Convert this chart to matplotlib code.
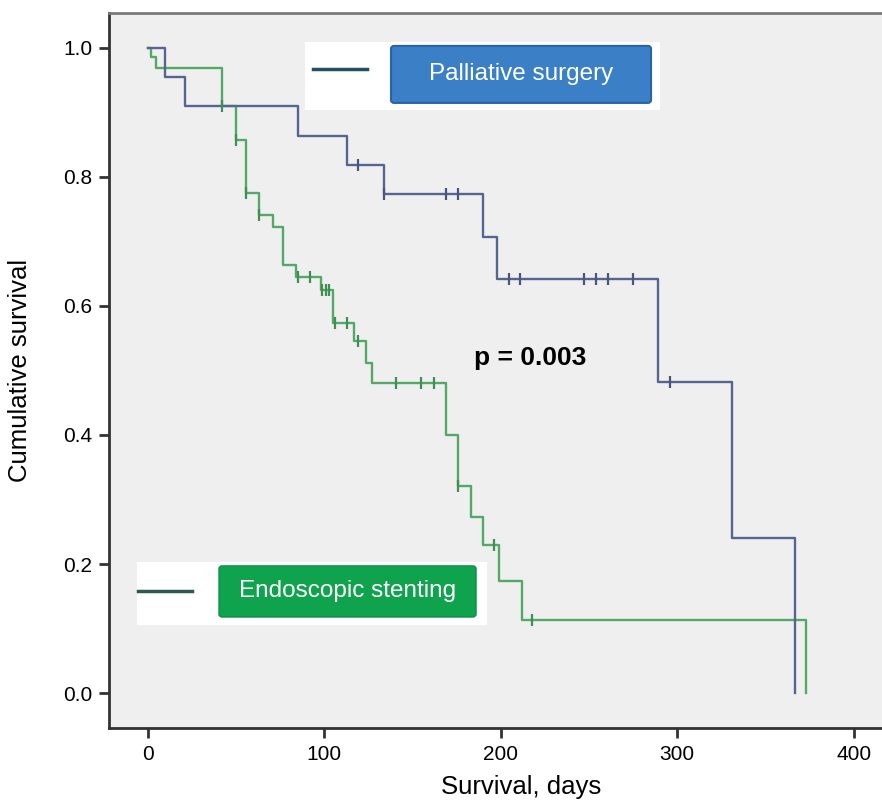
import numpy as np
import matplotlib
matplotlib.use("Agg")
import matplotlib.pyplot as plt
from matplotlib.patches import FancyBboxPatch, Rectangle
from matplotlib.lines import Line2D

plt.rcParams['font.family'] = ['Liberation Sans', 'DejaVu Sans']

# ---------------- data ----------------
pal_times = [0, 10, 21, 85, 113, 134, 190, 198, 289, 331, 367]
pal_surv = [1.0, 0.955, 0.909, 0.864, 0.818, 0.773, 0.707, 0.642, 0.482, 0.241, 0.0]
pal_censor = [119, 134, 169, 176, 205, 211, 247, 254, 261, 275, 296]

end_times = [0, 2, 5, 42, 50, 56, 63, 71, 77, 84, 98, 105, 117, 124, 127,
             169, 176, 183, 190, 199, 212, 373]
end_surv = [1.0, 0.985, 0.969, 0.909, 0.857, 0.775, 0.741, 0.723, 0.664, 0.645,
            0.625, 0.574, 0.545, 0.511, 0.48, 0.40, 0.321, 0.273, 0.229, 0.173,
            0.114, 0.0]
end_censor = [42, 50, 56, 63, 85, 92, 99, 101, 103, 106, 113, 119, 141, 155,
              162, 176, 196, 218]

xticks = [0, 100, 200, 300, 400]
yticks = [0.0, 0.2, 0.4, 0.6, 0.8, 1.0]
labels = ["Palliative surgery", "Endoscopic stenting"]
p_text = "p = 0.003"

pal_color = '#56658f'
end_color = '#55a968'


def surv_at(times, surv, t):
    idx = np.searchsorted(np.asarray(times), t, side='right') - 1
    return np.asarray(surv)[idx]


fig = plt.figure(figsize=(8.82, 8.05), dpi=100)
ax = fig.add_axes([0.1236, 0.0957, 0.8764, 0.8883])
ax.set_facecolor('#efefef')

ax.step(end_times, end_surv, where='post', color=end_color, lw=1.7, zorder=3)
ax.step(pal_times, pal_surv, where='post', color=pal_color, lw=1.7, zorder=3)
ax.plot(end_censor, [surv_at(end_times, end_surv, t) for t in end_censor],
        ls='none', marker='|', ms=9, mew=1.6, color='#3f8f52', zorder=4)
ax.plot(pal_censor, [surv_at(pal_times, pal_surv, t) for t in pal_censor],
        ls='none', marker='|', ms=9, mew=1.6, color='#4a577c', zorder=4)

ax.set_xlim(-21.8, 416)
ax.set_ylim(-0.054, 1.054)
ax.set_xticks(xticks)
ax.set_xticklabels([str(v) for v in xticks])
ax.set_yticks(yticks)
ax.set_yticklabels([f"{v:.1f}" for v in yticks])
ax.tick_params(axis='both', length=7, width=2, color='#333333', labelsize=15,
               labelcolor='black', pad=5)

for s in ['left', 'bottom']:
    ax.spines[s].set_color('#333333')
    ax.spines[s].set_linewidth(2)
ax.spines['top'].set_color('#7a7a7a')
ax.spines['top'].set_linewidth(2)
ax.spines['right'].set_visible(False)

ax.set_xlabel("Survival, days", fontsize=18.5)
ax.xaxis.set_label_coords(0.533, -0.066)
ax.set_ylabel("Cumulative survival", fontsize=18.5)
ax.yaxis.set_label_coords(-0.10, 0.5)

ax.text(185, 0.519, p_text, fontsize=19, fontweight='bold', va='center', ha='left', zorder=5)

# ---------------- legend boxes ----------------
T = ax.transAxes
# top (palliative surgery)
ax.add_patch(Rectangle((0.2536, 0.8643), 0.4592, 0.0951, transform=T,
                       facecolor='white', edgecolor='none', zorder=5))
ax.add_line(Line2D([0.2639, 0.3338], [0.9217, 0.9217], transform=T,
                   color='#23505e', lw=2.5, zorder=6))
ax.add_patch(FancyBboxPatch((0.3648, 0.8741), 0.3364, 0.0797, transform=T,
                            boxstyle='round,pad=0,rounding_size=0.004',
                            facecolor='#3b7fc6', edgecolor='#2a63a6', lw=1.5, zorder=6))
ax.text(0.533, 0.914, labels[0], transform=T, color='white', fontsize=17.5,
        ha='center', va='center', zorder=7)

# bottom (endoscopic stenting)
ax.add_patch(Rectangle((0.0362, 0.1441), 0.4528, 0.0881, transform=T,
                       facecolor='white', edgecolor='none', zorder=5))
ax.add_line(Line2D([0.0375, 0.1074], [0.1916, 0.1916], transform=T,
                   color='#2b5a50', lw=2.5, zorder=6))
ax.add_patch(FancyBboxPatch((0.1423, 0.1552), 0.3325, 0.0714, transform=T,
                            boxstyle='round,pad=0,rounding_size=0.004',
                            facecolor='#0ea34c', edgecolor='#0b9042', lw=1.0, zorder=6))
ax.text(0.3085, 0.1909, labels[1], transform=T, color='white', fontsize=17.5,
        ha='center', va='center', zorder=7)

fig.savefig("out.png", dpi=100, facecolor='white')
